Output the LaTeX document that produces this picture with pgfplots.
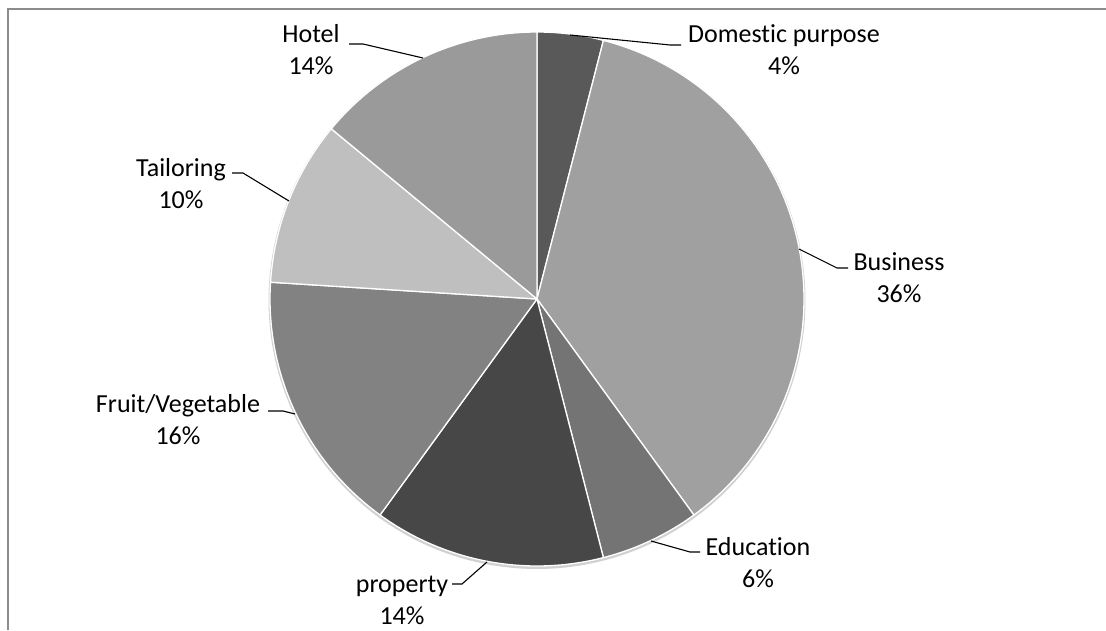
\documentclass[border=0pt]{standalone}
\usepackage{pgfplots}
\pgfplotsset{compat=1.18}
\usepackage{fontspec}
\setmainfont{Carlito}[Ligatures=CommonOff]
\definecolor{cDom}{HTML}{595959}
\definecolor{cBus}{HTML}{A0A0A0}
\definecolor{cEdu}{HTML}{747474}
\definecolor{cPro}{HTML}{474747}
\definecolor{cFru}{HTML}{828282}
\definecolor{cTai}{HTML}{BFBFBF}
\definecolor{cHot}{HTML}{9A9A9A}
\definecolor{cFrame}{HTML}{8C8C8C}
% percentages (clockwise from top)
\def\pDom{4}\def\pBus{36}\def\pEdu{6}\def\pPro{14}\def\pFru{16}\def\pTai{10}\def\pHot{14}
\pgfmathsetmacro\aA{90}
\pgfmathsetmacro\aB{\aA-3.6*\pDom}
\pgfmathsetmacro\aC{\aB-3.6*\pBus}
\pgfmathsetmacro\aD{\aC-3.6*\pEdu}
\pgfmathsetmacro\aE{\aD-3.6*\pPro}
\pgfmathsetmacro\aF{\aE-3.6*\pFru}
\pgfmathsetmacro\aG{\aF-3.6*\pTai}
\pgfmathsetmacro\aH{\aG-3.6*\pHot}
\def\cx{537}\def\cy{331}\def\R{267}
\newcommand\slice[3]{\addplot[fill=#3, draw=white, line width=1.3pt, line join=round, domain=#2:#1, samples=90] ({\cx+\R*cos(x)},{\cy+\R*sin(x)}) -- (axis cs:\cx,\cy) -- cycle;}
\begin{document}
\begin{tikzpicture}
\begin{axis}[
  width=1106pt, height=630pt, scale only axis,
  xmin=0, xmax=1106, ymin=0, ymax=630,
  hide axis, clip=false,
]
% shadow
\addplot[draw=black!18, line width=3pt, domain=0:360, samples=240] ({\cx+\R*cos(x)},{\cy-1.5+\R*sin(x)});
\slice{\aA}{\aB}{cDom}
\slice{\aB}{\aC}{cBus}
\slice{\aC}{\aD}{cEdu}
\slice{\aD}{\aE}{cPro}
\slice{\aE}{\aF}{cFru}
\slice{\aF}{\aG}{cTai}
\slice{\aG}{\aH}{cHot}
% leader lines
\addplot[black, line width=1.1pt] coordinates {(570,595) (670,585) (681,585)};
\addplot[black, line width=1.1pt] coordinates {(799,381) (837,362) (848,362)};
\addplot[black, line width=1.1pt] coordinates {(651,89) (690,78) (700,78)};
\addplot[black, line width=1.1pt] coordinates {(487,68) (462,46) (452,46)};
\addplot[black, line width=1.1pt] coordinates {(295,216) (283,219) (268,219)};
\addplot[black, line width=1.1pt] coordinates {(289,429) (243,457) (232,457)};
\addplot[black, line width=1.1pt] coordinates {(423,572) (363,586) (349,586)};
% frame
\addplot[cFrame, line width=2pt] coordinates {(1106,621) (8,621) (8,0)};
% labels
\begin{scope}[every node/.style={font=\fontsize{26}{32}\selectfont, align=center, inner sep=0pt}]
\node at (axis cs:311,580) {Hotel\\14\%};
\node at (axis cs:784,580) {Domestic purpose\\4\%};
\node at (axis cs:899,352) {Business\\36\%};
\node at (axis cs:758,67) {Education\\6\%};
\node at (axis cs:402,30) {property\\14\%};
\node at (axis cs:178,210) {Fruit/Vegetable\\16\%};
\node at (axis cs:181,446) {Tailoring\\10\%};
\end{scope}
\end{axis}
\pgfresetboundingbox
\path (current axis.south west) rectangle (current axis.north east);
\end{tikzpicture}
\end{document}
